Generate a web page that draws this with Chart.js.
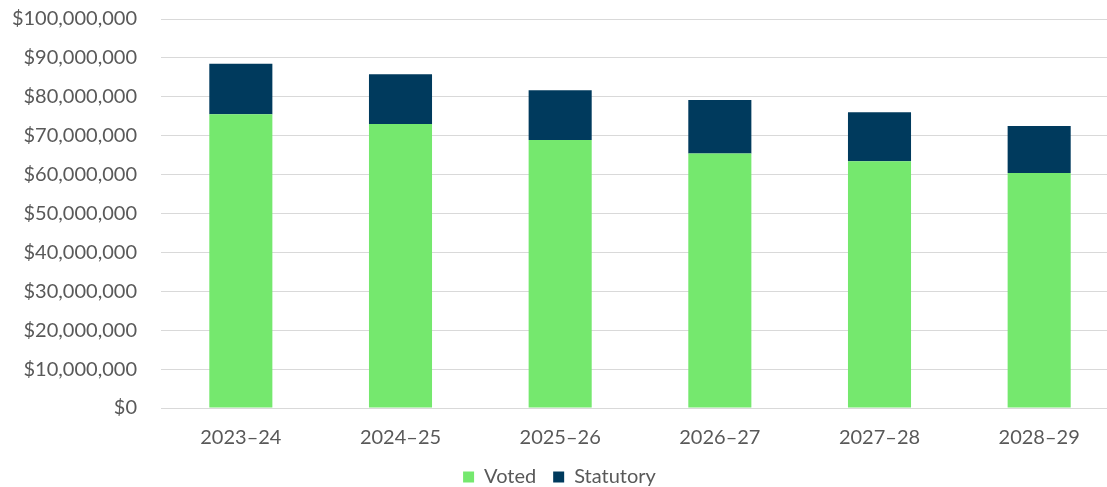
<!DOCTYPE html>
<html>
<head>
<meta charset="utf-8">
<script src="https://cdn.jsdelivr.net/npm/chart.js@4/dist/chart.umd.min.js"></script>
<style>
  html, body { margin: 0; padding: 0; background: #fff; overflow: hidden; }
  #wrap { width: 1119px; height: 514px; position: absolute; left: 0; top: -17px; }
</style>
</head>
<body>
<div id="wrap"><canvas id="c"></canvas></div>
<script>
const categories = ["2023\u201324", "2024\u201325", "2025\u201326", "2026\u201327", "2027\u201328", "2028\u201329"];
const voted = [75500000, 73000000, 68900000, 65400000, 63400000, 60400000];
const statutory = [13000000, 12800000, 12800000, 13800000, 12600000, 12100000];
const yTickMax = 100000000;
const yTickStep = 10000000;

Chart.defaults.font.family = "Lato, 'Open Sans', sans-serif";
Chart.defaults.color = "#595959";

new Chart(document.getElementById("c"), {
  type: "bar",
  data: {
    labels: categories,
    datasets: [
      { label: "Voted", data: voted, backgroundColor: "#75E86E", barPercentage: 0.395, categoryPercentage: 1.0 },
      { label: "Statutory", data: statutory, backgroundColor: "#003A5D", barPercentage: 0.395, categoryPercentage: 1.0 }
    ]
  },
  options: {
    responsive: true,
    maintainAspectRatio: false,
    animation: false,
    layout: { padding: { top: 9, right: 0, left: 0, bottom: 0 } },
    plugins: {
      legend: {
        position: "bottom",
        labels: {
          boxWidth: 11, boxHeight: 11, padding: 17,
          font: { size: 20 }, color: "#595959"
        }
      },
      tooltip: { enabled: false }
    },
    scales: {
      x: {
        stacked: true,
        afterFit: (s) => { s.height = 42; },
        grid: { display: false, drawTicks: false },
        border: { display: true, color: "#D9D9D9" },
        ticks: { font: { size: 20 }, color: "#595959", padding: 18 }
      },
      y: {
        stacked: true,
        min: 0, max: yTickMax,
        afterFit: (s) => { s.width = 161; },
        grid: { color: "#D9D9D9", drawTicks: false },
        border: { display: false },
        ticks: {
          stepSize: yTickStep, padding: 24, font: { size: 20 }, color: "#595959",
          callback: (v) => "$" + Number(v).toLocaleString("en-US")
        }
      }
    }
  }
});
</script>
</body>
</html>
